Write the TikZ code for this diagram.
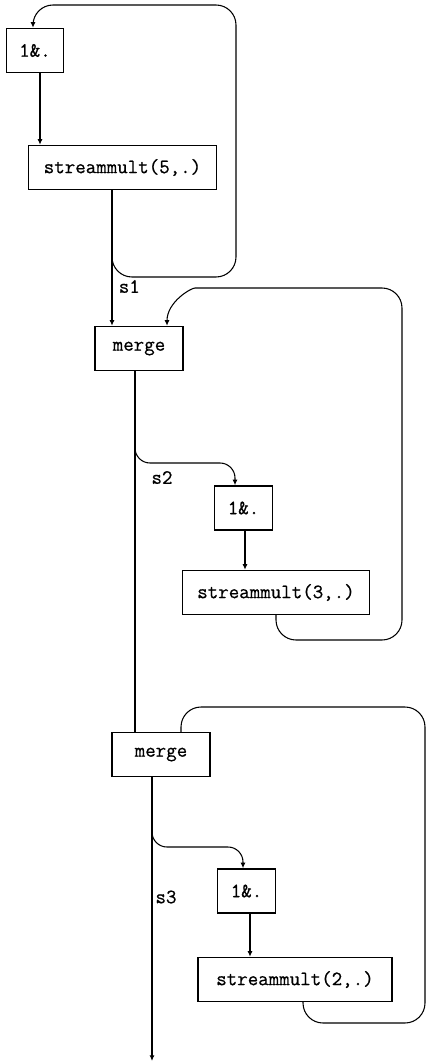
\documentclass[tikz,border=0pt]{standalone}
\usepackage{amsmath}
\usepackage{fontspec}
\newfontfamily\boxfont{Latin Modern Mono}[FakeBold=0.7]
\usetikzlibrary{arrows.meta}

\begin{document}
\begin{tikzpicture}[
	>={Latex[length=3.2pt,width=2.8pt]},
	every node/.style={font=\fontsize{11.6}{13}\selectfont\boxfont},
	box/.style={shape=rectangle,draw=black,line width=0.8pt,minimum height=0.88cm,inner sep=0pt},
	tiny/.style={box,minimum width=1.15cm},
	mrg/.style={box,minimum width=1.85cm},
	stream/.style={box,minimum width=3.75cm},
	flow/.style={line width=1.1pt},
	back/.style={line width=0.6pt,rounded corners=4mm},
	side/.style={line width=0.6pt,rounded corners=3mm}]

	\useasboundingbox (0,0) rectangle (8.52,-21.28);

	% first stage: 1&. and streammult(5,.)
	\node[tiny] (a1) at (0.70, -1.01)   {1\&.};
	\node[stream] (m1) at (2.45, -3.35) {streammult(5,.)};

	% second stage
	\node[mrg,minimum width=1.76cm] (g1) at (2.78, -6.97) {merge};
	\node[tiny] (a2) at (4.87, -10.16)  {1\&.};
	\node[stream] (m2) at (5.52, -11.85) {streammult(3,.)};

	% third stage
	\node[mrg,minimum width=1.96cm] (g2) at (3.22, -15.09) {merge};
	\node[tiny] (a3) at (4.93, -17.82)  {1\&.};
	\node[stream,minimum width=3.88cm] (m3) at (5.90, -19.59) {streammult(2,.)};

	\coordinate (o1) at ([xshift=-2.1mm]m1.south);
	\coordinate (o2) at ([xshift=-0.8mm]g1.south);
	\coordinate (o3) at ([xshift=-1.8mm]g2.south);
	\coordinate (b2) at (2.70, -8.90);
	\coordinate (b3) at (3.04, -16.64);
	\coordinate (out) at (3.04, -21.22);

	\draw[->, flow] ([xshift=1mm]a1.south) -- ([xshift=1mm]a1.south |- m1.north);
	\draw[->, flow] (o1) -- node[right,pos=.71] (s1) {s1} (o1 |- g1.north);
	\draw[->, back] (o1) |- (4.72,-5.54) |- (0.66,-0.10) -- ([xshift=-0.4mm]a1.north);

	\draw[flow] (o2) -- (o2 |- g2.north);
	\draw[->, side] (b2) |- (4.70,-9.26) -- ([xshift=-1.7mm]a2.north);
	\node (s2) at (3.24, -9.55) {s2};
	\draw[->, flow] ([xshift=0.3mm]a2.south) -- ([xshift=0.3mm]a2.south |- m2.north);
	\draw[->, back] (m2.south) |- (8.04,-12.80) |- (4.30,-5.76) to[out=180,in=90] ([xshift=5.6mm]g1.north);

	\draw[->, side] (b3) |- (4.86,-16.94) -- ([xshift=-0.7mm]a3.north);
	\node (s3) at (3.32, -17.94) {s3};
	\draw[->, flow] ([xshift=0.7mm]a3.south) -- ([xshift=0.7mm]a3.south |- m3.north);
	\draw[back] ([xshift=1.6mm]m3.south) |- (8.50,-20.46) |- (3.62,-14.14) -- ([xshift=4mm]g2.north);
	\draw[->, flow] (o3) -- (out);

\end{tikzpicture}
\end{document}
